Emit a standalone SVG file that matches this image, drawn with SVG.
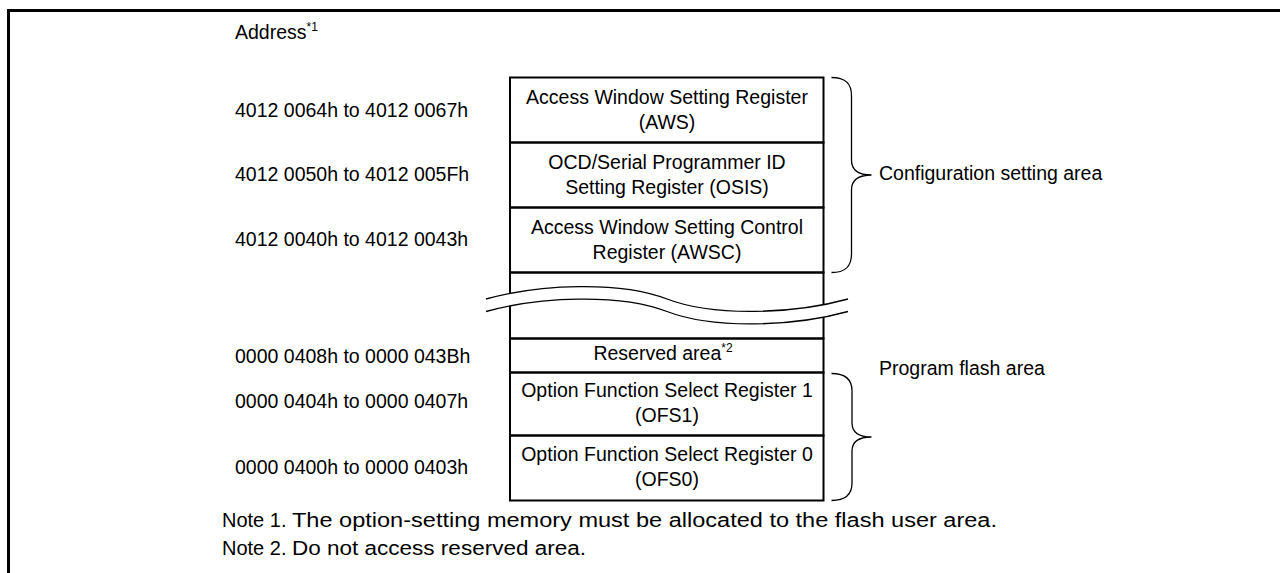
<svg xmlns="http://www.w3.org/2000/svg" width="1280" height="573" viewBox="0 0 1280 573">
<style>
text{font-family:"Liberation Sans",Arial,sans-serif;font-size:19.5px;fill:#000}
.sup{font-size:12px}
.c{text-anchor:middle}
.note{font-size:20px}
.box{fill:none;stroke:#000;stroke-width:2}
.brace{fill:none;stroke:#000;stroke-width:1.3}
.wave{fill:none;stroke:#000;stroke-width:1.3}
</style>
<rect width="1280" height="573" fill="#fff"/>
<g id="frame">
<line x1="7" y1="10.5" x2="1280" y2="10.5" stroke="#000" stroke-width="3"/>
<line x1="8.5" y1="9" x2="8.5" y2="573" stroke="#000" stroke-width="3"/>
</g>
<g id="address-labels">
<text x="235" y="39">Address<tspan class="sup" dy="-8">*1</tspan></text>
<text x="235" y="117">4012 0064h to 4012 0067h</text>
<text x="235" y="181">4012 0050h to 4012 005Fh</text>
<text x="235" y="246">4012 0040h to 4012 0043h</text>
<text x="235" y="363">0000 0408h to 0000 043Bh</text>
<text x="235" y="408">0000 0404h to 0000 0407h</text>
<text x="235" y="474">0000 0400h to 0000 0403h</text>
</g>
<g id="aws">
<rect class="box" x="510" y="77.5" width="313.5" height="65"/>
<text class="c" x="667" y="104">Access Window Setting Register</text>
<text class="c" x="667" y="129">(AWS)</text>
</g>
<g id="osis">
<rect class="box" x="510" y="142.5" width="313.5" height="65"/>
<text class="c" x="667" y="169">OCD/Serial Programmer ID</text>
<text class="c" x="667" y="194">Setting Register (OSIS)</text>
</g>
<g id="awsc">
<rect class="box" x="510" y="207.5" width="313.5" height="65"/>
<text class="c" x="667" y="234">Access Window Setting Control</text>
<text class="c" x="667" y="259">Register (AWSC)</text>
</g>
<g id="gap">
<rect class="box" x="510" y="272.5" width="313.5" height="66"/>
<path d="M486,299 C540,284 620,281 667,299 C714,317 794,314 848,299 L848,311.5 C794,326.5 714,329.5 667,311.5 C620,293.5 540,296.5 486,311.5 Z" fill="#fff" stroke="none"/>
<path class="wave" d="M486,299 C540,284 620,281 667,299 C714,317 794,314 848,299"/>
<path class="wave" d="M486,311.5 C540,296.5 620,293.5 667,311.5 C714,329.5 794,326.5 848,311.5"/>
</g>
<g id="reserved">
<rect class="box" x="510" y="338.5" width="313.5" height="34"/>
<text class="c" x="663" y="360">Reserved area<tspan class="sup" dy="-8">*2</tspan></text>
</g>
<g id="ofs1">
<rect class="box" x="510" y="372.5" width="313.5" height="63"/>
<text class="c" x="667" y="397">Option Function Select Register 1</text>
<text class="c" x="667" y="422">(OFS1)</text>
</g>
<g id="ofs0">
<rect class="box" x="510" y="435.5" width="313.5" height="65"/>
<text class="c" x="667" y="461">Option Function Select Register 0</text>
<text class="c" x="667" y="486">(OFS0)</text>
</g>
<g id="connectors">
<path class="brace" d="M831.5,77.5 C845,77.5 851.5,83 851.5,96 L851.5,160 C851.5,170 858,175 871.5,175 C858,175 851.5,180 851.5,190 L851.5,254 C851.5,267 845,272.5 831.5,272.5"/>
<path class="brace" d="M831.5,373.5 C845,373.5 852,379 852,391 L852,423 C852,432 858,437 871.5,437 C858,437 852,442 852,451 L852,483 C852,495 845,500.5 831.5,500.5"/>
</g>
<g id="area-labels">
<text x="879" y="180">Configuration setting area</text>
<text x="879" y="375">Program flash area</text>
</g>
<g id="notes">
<text class="note" x="222" y="527">Note 1.</text>
<text class="note" x="292" y="527" textLength="705" lengthAdjust="spacingAndGlyphs">The option-setting memory must be allocated to the flash user area.</text>
<text class="note" x="222" y="555">Note 2.</text>
<text class="note" x="292" y="555" textLength="294" lengthAdjust="spacingAndGlyphs">Do not access reserved area.</text>
</g>
</svg>
